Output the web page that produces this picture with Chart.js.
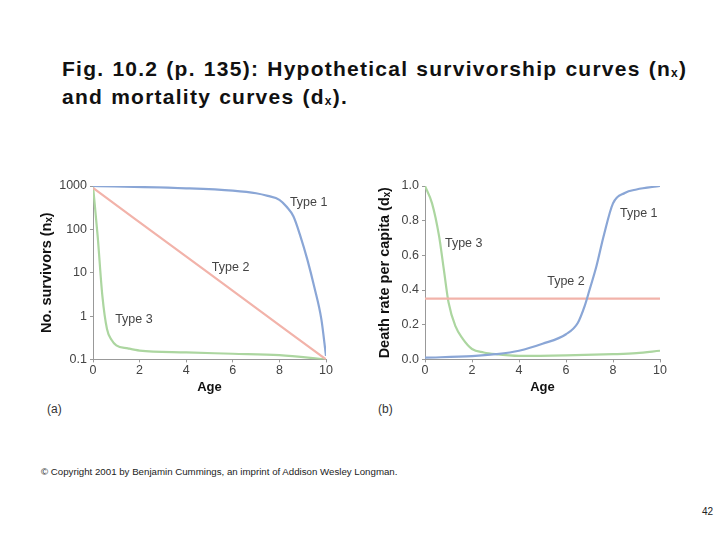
<!DOCTYPE html>
<html>
<head>
<meta charset="utf-8">
<script src="https://cdn.jsdelivr.net/npm/chart.js@4"></script>
<style>
  body { margin: 0; background: #fff; font-family: "Liberation Sans", Arial, sans-serif; }
  #page { position: relative; width: 720px; height: 540px; overflow: hidden; }
  .title { position: absolute; left: 62px; top: 57px; font-size: 21px; font-weight: bold; line-height: 23px; color: #111; letter-spacing: 1.25px; word-spacing: 1px; }
  .title sub { font-size: 12px; vertical-align: -1px; font-weight: bold; }
  .cap { position: absolute; font-size: 12px; color: #333; }
  .box { position: absolute; }
</style>
</head>
<body>
<div id="page">
  <div class="title">Fig. 10.2 (p. 135): Hypothetical survivorship curves (n<sub>x</sub>)<br>and mortality curves (d<sub>x</sub>).</div>
  <div class="box" style="left:32px; top:170px; width:308px; height:225px;"><canvas id="survChart"></canvas></div>
  <div class="box" style="left:370px; top:170px; width:304px; height:225px;"><canvas id="deathChart"></canvas></div>
  <div class="cap" style="left:47px; top:402px;">(a)</div>
  <div class="cap" style="left:378px; top:402px;">(b)</div>
  <div class="cap" style="left:41px; top:466px; font-size:9.7px; color:#222;">© Copyright 2001 by Benjamin Cummings, an imprint of Addison Wesley Longman.</div>
  <div class="cap" style="left:702px; top:506px; font-size:10px; color:#222;">42</div>
</div>
<script>
// ---- (a) survivorship, log scale ----
const surv1Age = [0, 4, 6, 7, 7.5, 8, 8.3, 8.6, 8.9, 9.2, 9.5, 9.8, 10];
const surv1Val = [1000, 885, 780, 680, 590, 480, 336, 200, 70, 20, 4.6, 0.85, 0.12];
const surv2Age = [0, 5, 10];
const surv2Val = [900, 9.5, 0.1];
const surv3Age = [0, 0.2, 0.4, 0.6, 0.8, 1, 1.5, 2, 4, 6, 8, 10];
const surv3Val = [1000, 70, 3, 0.5, 0.28, 0.21, 0.18, 0.16, 0.145, 0.135, 0.125, 0.1];
const survTicks = [0.1, 1, 10, 100, 1000];

// ---- (b) death rate per capita ----
const death1Age = [0, 2, 3, 4, 5, 6, 6.5, 6.8, 7, 7.3, 7.6, 8, 8.5, 9, 10];
const death1Val = [0.01, 0.019, 0.03, 0.05, 0.09, 0.145, 0.21, 0.31, 0.4, 0.54, 0.71, 0.9, 0.96, 0.98, 1.0];
const death2Age = [0, 10];
const death2Val = [0.35, 0.35];
const death3Age = [0, 0.3, 0.6, 0.8, 1, 1.3, 1.6, 2, 2.5, 3, 4, 6, 8, 9, 10];
const death3Val = [1.0, 0.9, 0.71, 0.52, 0.33, 0.19, 0.12, 0.06, 0.04, 0.03, 0.02, 0.023, 0.03, 0.036, 0.05];

const ageTicks = [0, 2, 4, 6, 8, 10];

const BLUE = '#8aa6d6', PINK = '#f2b3aa', GREEN = '#acd6a0';
const tickFont = { family: 'Liberation Sans', size: 12.5 };

function pts(xs, ys) { return xs.map((x, i) => ({ x: x, y: ys[i] })); }

function line(label, xs, ys, color) {
  return {
    label: label, data: pts(xs, ys), borderColor: color, borderWidth: 2.2,
    pointRadius: 0, fill: false, cubicInterpolationMode: 'monotone'
  };
}

// draws the "Type n" labels at data coordinates
const curveLabels = {
  id: 'curveLabels',
  afterDatasetsDraw(chart, args, opts) {
    const ctx = chart.ctx, xs = chart.scales.x, ys = chart.scales.y;
    ctx.save();
    ctx.font = '12.5px "Liberation Sans", Arial, sans-serif';
    ctx.fillStyle = '#444';
    ctx.textBaseline = 'middle';
    opts.items.forEach(it => ctx.fillText(it.text, xs.getPixelForValue(it.x), ys.getPixelForValue(it.y)));
    ctx.restore();
  }
};

function fixedWidth(w) { return scale => { scale.width = w; }; }

function baseOptions(yTitle, yWidth) {
  return {
    responsive: true, maintainAspectRatio: false, animation: false,
    layout: { padding: { top: 16, right: 14, bottom: 0, left: 0 } },
    plugins: { legend: { display: false }, tooltip: { enabled: false } },
    scales: {
      x: {
        type: 'linear', min: 0, max: 10,
        afterBuildTicks: s => { s.ticks = ageTicks.map(v => ({ value: v })); },
        ticks: { font: tickFont, color: '#444', padding: 1 },
        grid: { drawOnChartArea: false, tickLength: 3, color: '#999' },
        border: { color: '#999' },
        title: { display: true, text: 'Age', font: { family: 'Liberation Sans', size: 13, weight: 'bold' }, color: '#111', padding: 0 }
      },
      y: {
        afterFit: fixedWidth(yWidth),
        ticks: { font: tickFont, color: '#444', padding: 3 },
        grid: { drawOnChartArea: false, tickLength: 3, color: '#999' },
        border: { color: '#999' },
        title: { display: true, text: yTitle, font: { family: 'Liberation Sans', size: 14.5, weight: 'bold' }, color: '#111', padding: { top: 6, bottom: 4 } }
      }
    }
  };
}

const optA = baseOptions('No. survivors (nₓ)', 61);
optA.scales.y.type = 'logarithmic';
optA.scales.y.min = 0.1;
optA.scales.y.max = 1000;
optA.scales.y.afterBuildTicks = s => { s.ticks = survTicks.map(v => ({ value: v })); };
optA.scales.y.ticks.callback = v => String(v);
optA.plugins.curveLabels = { items: [
  { text: 'Type 1', x: 8.45, y: 420 },
  { text: 'Type 2', x: 5.1, y: 13 },
  { text: 'Type 3', x: 0.95, y: 0.85 }
] };

new Chart(document.getElementById('survChart'), {
  type: 'line',
  data: { datasets: [
    line('Type 1', surv1Age, surv1Val, BLUE),
    line('Type 2', surv2Age, surv2Val, PINK),
    line('Type 3', surv3Age, surv3Val, GREEN)
  ] },
  options: optA,
  plugins: [curveLabels]
});

const optB = baseOptions('Death rate per capita (dₓ)', 55);
optB.scales.y.type = 'linear';
optB.scales.y.min = 0;
optB.scales.y.max = 1;
optB.scales.y.ticks.stepSize = 0.2;
optB.scales.y.ticks.callback = v => v.toFixed(1);
optB.plugins.curveLabels = { items: [
  { text: 'Type 1', x: 8.3, y: 0.84 },
  { text: 'Type 2', x: 5.2, y: 0.45 },
  { text: 'Type 3', x: 0.85, y: 0.67 }
] };

new Chart(document.getElementById('deathChart'), {
  type: 'line',
  data: { datasets: [
    line('Type 1', death1Age, death1Val, BLUE),
    line('Type 2', death2Age, death2Val, PINK),
    line('Type 3', death3Age, death3Val, GREEN)
  ] },
  options: optB,
  plugins: [curveLabels]
});
</script>
</body>
</html>
